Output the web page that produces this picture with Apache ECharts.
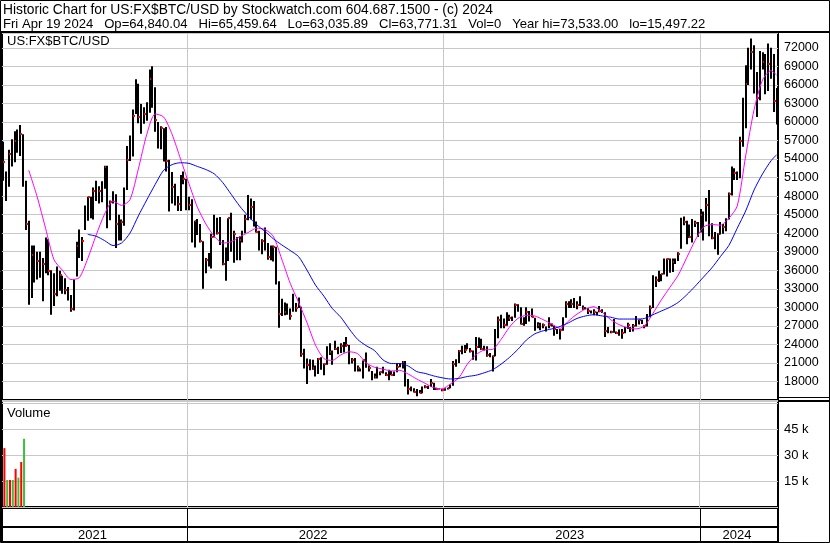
<!DOCTYPE html>
<html><head><meta charset="utf-8">
<script src="https://cdn.jsdelivr.net/npm/echarts@6/dist/echarts.min.js"></script>
<style>html,body{margin:0;padding:0;background:#fff}#c{width:830px;height:543px}</style>
</head><body><div id="c"></div><script>
// ---- data (4-day samples starting 2021-04-15) ----
const firstSampleDate = '2021-04-15';
const sampleStepDays = 4;
const axisStartDate = '2021-04-13';
const axisEndDate = '2024-04-21';

const lows = [50500,47200,49500,52800,53500,55000,54500,49500,42500,30400,
31500,34000,34500,34800,31000,35500,35200,28800,30200,31800,
32700,32200,32100,31100,29300,29500,35000,38000,37500,42500,
44000,44400,44200,47200,46800,47000,49200,42800,44100,46800,
39600,40800,40800,43200,49000,53700,54400,61300,59800,58100,
59700,60200,61500,62300,58400,55700,55600,53600,52000,45500,
46800,46500,45600,45600,49900,45700,
45700,40500,39700,41700,40500,33000,35500,36600,36300,41300,
41800,40100,36800,34300,37500,39000,37200,37600,37600,40500,
42000,44100,44200,43100,42100,39200,38600,39200,37700,37600,
37400,33700,26700,28600,28700,28800,28000,29300,29300,29900,
22000,20100,17600,19800,19900,18800,19200,19900,19000,20700,
22300,20700,23100,22400,22600,22700,23600,20800,20900,19600,
19600,19600,18500,20200,19600,18200,18500,18500,19000,19300,
18900,18200,19000,18900,19500,20300,20100,17200,15900,16400,
16200,15600,16100,16100,16900,16800,17100,16600,16600,16700,
16400,
16500,16700,16900,17300,20400,21000,22400,22600,23200,22700,
21500,21400,23400,23100,23000,22000,21900,19600,22100,25000,
26600,26600,27000,27800,27800,28300,29300,27200,27000,27300,
27700,28400,26200,26600,26300,26600,26100,26600,26900,25400,
25700,24800,26200,28300,29900,29900,29900,29700,30200,29600,
29700,28900,29000,28700,28700,29200,29100,25200,25800,25800,
25900,25700,25400,24900,25800,26500,26000,26100,26900,27200,
27300,26600,26900,28400,29900,33300,34100,34200,35300,35000,
35600,35700,37000,37500,39500,43300,40200,41200,40500,43000,
41400,
42100,40800,43900,41500,41000,39400,38500,41800,41900,42300,
44200,48100,50600,50600,50900,56000,59000,66000,68500,64600,
60800,63500,68500,64500,65000,67000,61600,59600];

const highs = [56800,52000,55500,57200,58500,58800,59500,58000,50500,44000,
40000,40000,39000,39000,38000,41300,41000,36000,35500,36600,
35900,35100,34700,33300,32000,34500,40600,42600,41400,46500,
47900,47900,49400,50500,49600,50400,52900,52900,47300,48800,
48300,45000,44200,49400,56100,57800,62000,66900,66200,62900,
62400,63200,68500,69000,65600,60000,59300,59000,59200,53900,
51900,50000,48000,51400,52000,50800,
47900,47500,44000,44300,43500,40700,38000,38800,41900,45000,
44500,44600,40900,39700,44400,45300,42400,41400,41500,42400,
45000,48200,47600,47200,43900,42400,41000,42900,40400,40000,
40000,39800,34200,31400,30800,30600,29800,32200,30700,31600,
30100,23300,21700,21600,21500,20600,21800,21900,20900,23700,
24200,23000,24600,23600,24200,24400,25200,23900,21800,21800,
20600,20100,21400,22700,20600,19700,19300,20400,19600,20400,
19500,19900,19700,19600,21000,20900,21300,21300,18400,17200,
16900,16800,16600,17200,17400,17300,18400,17800,17000,16900,
16800,
16900,17000,17500,21300,21600,23100,23800,23900,24200,23400,
23000,25200,25100,24900,23800,23700,22600,22200,26500,28500,
28800,28200,29200,28800,28500,30600,30500,30000,28400,30000,
29400,29800,28300,27600,27500,27400,26900,28400,27400,27000,
26500,26500,28400,31000,31000,31300,31500,31000,31800,30300,
30000,29900,29500,29700,29300,30200,29700,29200,26800,26200,
28100,26100,26400,26500,26800,27500,26800,27300,28600,28000,
28000,27100,28900,30300,35200,35000,35900,35400,37900,37900,
37900,37900,37900,38900,44500,44700,44000,43400,44300,44000,
43800,
45900,45500,47700,49000,43600,42200,42000,43800,43500,44400,
48600,52800,52500,52000,57600,63900,69200,72000,73500,72400,
68100,71500,71300,71000,72700,72000,71000,65500];

const closes = [53500,49500,54800,55600,57000,56500,58000,50500,43500,37500,
38500,35500,37500,35800,37000,40200,35800,32500,32200,35000,
35300,32900,32800,31500,29800,34000,40000,39800,40800,46300,
47800,44700,48900,49000,48800,49300,52700,44900,47100,48300,
43500,43200,43800,49100,53900,56000,60900,65900,60800,60600,
61300,61000,66900,64200,60300,58700,59000,57800,53700,50600,
49400,48900,46700,50800,50700,46300,
46500,41600,43900,43100,40700,36700,37700,38500,41400,44400,
42100,40500,37000,39200,44400,39400,41900,37800,40900,41000,
44300,47100,46300,43200,42200,39900,40800,39700,38100,37700,
39700,34100,28900,29900,29200,29600,28600,29800,29900,30100,
22400,20400,20600,21200,20100,19300,21600,19900,20800,23400,
22700,22900,23300,22600,23800,24400,23900,21200,21500,19600,
20100,19800,21400,20200,20100,18500,18800,19400,19600,19500,
19000,19100,19100,19600,20300,20500,21200,18500,16800,16700,
16300,16600,16200,17000,17100,17100,17800,16800,16800,16900,
16600,
16700,16900,17400,20900,21100,22900,23100,23100,23400,22900,
21800,23500,24800,23200,23100,22300,22000,22100,25100,28000,
27400,27100,28500,28200,28300,30400,29400,27300,28300,29200,
28800,28400,26900,27200,26900,27200,26800,27200,27100,26500,
25900,26300,28300,30500,30100,30600,29900,30400,30300,29900,
29800,29400,29300,29200,29200,29400,29200,26100,26400,26000,
26000,25800,25900,25800,26600,27200,26300,27000,27600,27900,
27400,26900,28400,29900,34200,34500,34800,35400,37100,37900,
37400,37400,37200,38700,44100,43800,42900,41400,43900,43600,
42100,
45000,44000,46600,41800,41300,39500,41800,43300,43000,44300,
48300,51900,51800,50700,57000,62000,66100,68900,71400,67600,
63800,70000,69700,66000,69400,70000,63400,63800];

// moving averages, one value every 3 samples (12 days)
const maEvery = 3;
const maShort = [null,null,null,52200,47900,42800,37700,36000,34500,34800,
37900,41700,45100,47200,46500,47400,52400,58000,61300,60800,
58000,54000,50000,46200,43500,41500,40400,40600,41400,42100,
42800,42600,41500,37800,33900,30800,27500,23900,21700,21400,
22300,22800,22500,21000,20300,20000,19700,19800,19200,18400,
17700,17000,16800,17600,18600,20800,22300,23100,23200,24800,
26800,28200,28700,28600,28000,27300,26600,27800,28900,29700,
30100,29200,28000,27200,26700,26500,27000,29000,31200,33200,
35200,38000,40800,43000,43400,43300,44400,46400,54500,62000,
66800,68300,67600];
const maLong = [null,null,null,null,null,null,null,null,null,null,
41800,41500,40800,40000,40400,42000,44800,47400,49900,52200,
53100,53400,53300,52800,52300,51600,50200,48300,46400,44800,
43400,42300,41100,40100,39200,38200,36000,33600,31800,29800,
28400,26500,24800,23800,23000,21500,20900,20900,20500,19600,
19300,18900,18600,18400,18500,18800,19000,19400,19900,20800,
21900,23200,24700,25700,26200,26500,26900,27500,28200,28600,
28800,28600,28400,28100,28100,28100,28200,28800,29400,30000,
30800,32000,33400,34900,36400,38200,40000,42800,45600,49000,
51600,53700,54700];

const volumes = [34000,15600,15600,15600,22000,17000,26000,39400];
const volumeSide = ['down','up','down','up','down','up','down','up'];

const yearLabels = ['2021','2022','2023','2024'];
const yearStarts = ['2021-01-01','2022-01-01','2023-01-01','2024-01-01'];
const yearEnds = ['2022-01-01','2023-01-01','2024-01-01','2025-01-01'];

const priceTicks = [18000,21000,24000,27000,30000,33000,36000,39000,42000,45000,48000,51000,54000,57000,60000,63000,66000,69000,72000];
const volumeTicks = {15000:'15 k', 30000:'30 k', 45000:'45 k'};

const headerLine1 = 'Historic Chart for US:FX$BTC/USD by Stockwatch.com 604.687.1500 - (c) 2024';
const headerLine2 = 'Fri Apr 19 2024   Op=64,840.04   Hi=65,459.64   Lo=63,035.89   Cl=63,771.31   Vol=0   Year hi=73,533.00   lo=15,497.22';
const symbolLabel = 'US:FX$BTC/USD';
const volumeLabel = 'Volume';

// ---- build ----
const DAY = 86400000;
const ts = s => Date.parse(s + 'T00:00:00Z');
const t0 = ts(firstSampleDate);
const sampleTime = i => t0 + i * sampleStepDays * DAY;
const ohlc = closes.map((c, i) => [sampleTime(i), lows[i], highs[i], c]);
const maTime = k => sampleTime(Math.min(k * maEvery, closes.length - 1));
const toLine = arr => arr.map((v, k) => v == null ? null : [maTime(k), v]).filter(Boolean);
const volData = volumes.map((v, i) => ({value: [sampleTime(i), v], itemStyle: {color: volumeSide[i] === 'up' ? '#3cbf3c' : '#ff0000'}}));
const yearLineData = yearStarts.map(s => [ts(s), 0]);
const yearCells = yearLabels.map((y, j) => [ts(yearStarts[j]), ts(yearEnds[j])]);

const FONT = '"Liberation Sans", Arial, sans-serif';
const xmin = ts(axisStartDate), xmax = ts(axisEndDate);
const xBase = {type: 'time', min: xmin, max: xmax, axisLine: {show: false}, axisTick: {show: false}, axisLabel: {show: false}, splitLine: {show: false}};

function vline(params, api) {
  const cs = params.coordSys;
  const x = Math.round(api.coord([api.value(0), 0])[0]) + 0.5;
  if (x <= cs.x + 2 || x >= cs.x + cs.width - 2) return null;
  return {type: 'line', shape: {x1: x, y1: cs.y, x2: x, y2: cs.y + cs.height}, style: {stroke: '#c8c8c8', lineWidth: 1}};
}
function bar(params, api) {
  const t = api.value(0);
  const x = Math.round(api.coord([t, 0])[0]);
  const yHi = api.coord([t, api.value(2)])[1];
  const yLo = api.coord([t, api.value(1)])[1];
  const yCl = api.coord([t, api.value(3)])[1];
  const ch = [{type: 'rect', shape: {x: x - 1, y: yHi, width: 2, height: Math.max(1, yLo - yHi)}, style: {fill: '#000'}}];
  if (params.dataIndex % 2 === 0) ch.push({type: 'rect', shape: {x: x, y: Math.round(yCl) - 1, width: 2, height: 2}, style: {fill: '#ff0000'}});
  return {type: 'group', children: ch};
}
function yearCell(params, api) {
  const cs = params.coordSys;
  let x0 = api.coord([api.value(0), 0])[0];
  let x1 = api.coord([api.value(1), 0])[0];
  x0 = Math.max(x0, cs.x); x1 = Math.min(x1, cs.x + cs.width);
  const midY = cs.y + 19;
  const ch = [{type: 'line', shape: {x1: x0, y1: midY, x2: x1, y2: midY}, style: {stroke: '#000', lineWidth: 2}}];
  if (x0 > cs.x + 2) {
    const xl = Math.round(x0) + 0.5;
    ch.push({type: 'line', shape: {x1: xl, y1: cs.y, x2: xl, y2: cs.y + cs.height}, style: {stroke: '#000', lineWidth: 1}});
  }
  ch.push({type: 'text', x: (x0 + x1) / 2 - 2, y: (midY + cs.y + cs.height) / 2 + 1,
    style: {text: yearLabels[params.dataIndex], align: 'center', verticalAlign: 'middle', fill: '#000', font: '13px ' + FONT}});
  return {type: 'group', children: ch};
}

const titleStyle = {fontFamily: FONT, fontSize: 13, fontWeight: 'normal', color: '#000', lineHeight: 14};
const option = {
  animation: false,
  backgroundColor: '#fff',
  title: [
    {text: headerLine1, left: 3, top: 3, padding: 0, textStyle: Object.assign({}, titleStyle, {fontSize: 13.8})},
    {text: headerLine2, left: 3, top: 17, padding: 0, textStyle: Object.assign({}, titleStyle, {fontSize: 13.1})},
    {text: symbolLabel, left: 7, top: 34, padding: 0, textStyle: titleStyle},
    {text: volumeLabel, left: 7, top: 406, padding: 0, textStyle: titleStyle}
  ],
  grid: [
    {left: 2, right: 52, top: 33, height: 367, show: true, borderColor: '#000', borderWidth: 2, outerBoundsMode: 'none'},
    {left: 2, right: 52, top: 401, height: 106, show: true, borderColor: '#000', borderWidth: 2, outerBoundsMode: 'none'},
    {left: 2, right: 52, top: 508, height: 34, show: true, borderColor: '#000', borderWidth: 2, outerBoundsMode: 'none'}
  ],
  xAxis: [Object.assign({gridIndex: 0}, xBase), Object.assign({gridIndex: 1}, xBase), Object.assign({gridIndex: 2}, xBase)],
  yAxis: [
    {gridIndex: 0, type: 'value', position: 'right', min: 15000, max: 74400, interval: 3000,
      axisLine: {show: false}, axisTick: {show: false},
      splitLine: {show: true, lineStyle: {color: '#c8c8c8', width: 1}},
      axisLabel: {margin: 6, color: '#000', fontFamily: FONT, fontSize: 12.5, formatter: v => priceTicks.indexOf(v) >= 0 ? String(v) : ''}},
    {gridIndex: 1, type: 'value', position: 'right', min: 0, max: 61200, interval: 15000,
      axisLine: {show: false}, axisTick: {show: false},
      splitLine: {show: true, lineStyle: {color: '#c8c8c8', width: 1}},
      axisLabel: {margin: 6, color: '#000', fontFamily: FONT, fontSize: 13, formatter: v => volumeTicks[v] || ''}},
    {gridIndex: 2, type: 'value', min: 0, max: 1, show: false}
  ],
  graphic: [
    {type: 'rect', silent: true, z: 100, shape: {x: 0.5, y: 0.5, width: 829, height: 542}, style: {fill: null, stroke: '#000', lineWidth: 1}},
    {type: 'line', silent: true, z: 100, shape: {x1: 0, y1: 32, x2: 830, y2: 32}, style: {stroke: '#000', lineWidth: 2}},
    {type: 'line', silent: true, z: 100, shape: {x1: 778, y1: 397.5, x2: 830, y2: 397.5}, style: {stroke: '#000', lineWidth: 1}},
    {type: 'line', silent: true, z: 100, shape: {x1: 778, y1: 401, x2: 830, y2: 401}, style: {stroke: '#000', lineWidth: 2}}
  ],
  series: [
    {type: 'custom', name: 'yearLinesMain', xAxisIndex: 0, yAxisIndex: 0, z: 1, silent: true, data: yearLineData, encode: {x: 0, y: 1}, renderItem: vline},
    {type: 'custom', name: 'BTC', xAxisIndex: 0, yAxisIndex: 0, z: 2, silent: true, data: ohlc, encode: {x: 0, y: [1, 2, 3]}, renderItem: bar},
    {type: 'line', name: 'MA short', xAxisIndex: 0, yAxisIndex: 0, z: 3, silent: true, showSymbol: false, smooth: 0.25, data: toLine(maShort), lineStyle: {color: '#ff00ff', width: 1}},
    {type: 'line', name: 'MA long', xAxisIndex: 0, yAxisIndex: 0, z: 3, silent: true, showSymbol: false, smooth: 0.25, data: toLine(maLong), lineStyle: {color: '#0000ff', width: 1}},
    {type: 'custom', name: 'yearLinesVol', xAxisIndex: 1, yAxisIndex: 1, z: 1, silent: true, data: yearLineData, encode: {x: 0, y: 1}, renderItem: vline},
    {type: 'bar', name: 'Volume', xAxisIndex: 1, yAxisIndex: 1, z: 2, silent: true, barWidth: 2, data: volData},
    {type: 'custom', name: 'years', xAxisIndex: 2, yAxisIndex: 2, z: 2, silent: true, data: yearCells, encode: {x: [0, 1]}, renderItem: yearCell}
  ]
};
const chart = echarts.init(document.getElementById('c'), null, {renderer: 'canvas'});
chart.setOption(option);
</script></body></html>
